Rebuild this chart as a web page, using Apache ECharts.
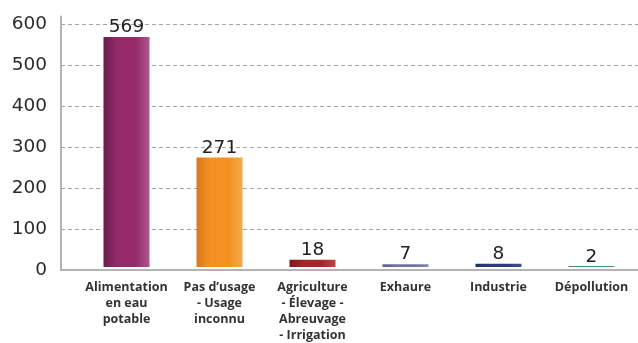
<!DOCTYPE html>
<html>
<head>
<meta charset="utf-8">
<script src="https://cdn.jsdelivr.net/npm/echarts@6/dist/echarts.min.js"></script>
<style>
  html, body { margin: 0; padding: 0; background: #fff; }
  #chart { width: 638px; height: 343px; }
</style>
</head>
<body>
<div id="chart"></div>
<script>
// Usage categories and counts
const categories = [
  'Alimentation\nen eau\npotable',
  'Pas d’usage\n- Usage\ninconnu',
  'Agriculture\n- Élevage -\nAbreuvage\n- Irrigation',
  'Exhaure',
  'Industrie',
  'Dépollution'
];
const values = [569, 271, 18, 7, 8, 2];
const yTicks = [0, 100, 200, 300, 400, 500, 600];

// Bar shading: [left edge, middle, right edge]
const palette = [
  ['#6a1d4c', '#952a6b', '#ad5a8b'],
  ['#d9791a', '#f39222', '#f7a94a'],
  ['#7e1519', '#a3262b', '#b9474b'],
  ['#5f6192', '#70729f', '#8587b0'],
  ['#222d66', '#2f3b7c', '#45508c'],
  ['#07592f', '#0b6b3a', '#1a7a48']
];

const yMax = 620;
const numFont = '"DejaVu Sans", sans-serif';
const catFont = '"Open Sans", "Noto Sans", sans-serif';

const chart = echarts.init(document.getElementById('chart'), null, { renderer: 'canvas' });

chart.setOption({
  animation: false,
  grid: [
    // frame: value axis, grid lines and baseline
    { left: 61, right: 0, top: 16.5, bottom: 73 },
    // bars
    { left: 80, right: -6, top: 16.5, bottom: 73 }
  ],
  xAxis: [
    {
      gridIndex: 0, type: 'value', min: 0, max: 1,
      axisLine: { show: true, lineStyle: { color: '#b3b3b3', width: 2 } },
      axisTick: { show: false }, axisLabel: { show: false }, splitLine: { show: false }
    },
    {
      gridIndex: 1, type: 'category', data: categories,
      axisLine: { show: false }, axisTick: { show: false },
      axisLabel: {
        interval: 0, margin: 12, color: '#333', fontFamily: catFont,
        fontWeight: 'bold', fontSize: 12.5, lineHeight: 16, align: 'center'
      }
    }
  ],
  yAxis: [
    {
      gridIndex: 0, type: 'value', min: 0, max: yMax, interval: 100,
      axisLine: { show: true, lineStyle: { color: '#b3b3b3', width: 2 } },
      axisTick: { show: false },
      axisLabel: {
        showMaxLabel: false, margin: 14, color: '#2b2b2b', fontFamily: numFont, fontSize: 18.5,
        formatter: v => (yTicks.indexOf(v) >= 0 ? String(v) : '')
      },
      splitLine: {
        show: true, showMaxLine: false,
        lineStyle: { color: '#a6a6a6', type: [4, 3], width: 1 }
      }
    },
    {
      gridIndex: 1, type: 'value', min: 0, max: yMax, show: false
    }
  ],
  series: [{
    type: 'bar',
    xAxisIndex: 1, yAxisIndex: 1,
    barWidth: 46,
    data: values.map((v, i) => ({
      value: v,
      itemStyle: {
        color: {
          type: 'linear', x: 0, y: 0, x2: 1, y2: 0,
          colorStops: [
            { offset: 0, color: palette[i][0] },
            { offset: 0.3, color: palette[i][1] },
            { offset: 0.7, color: palette[i][1] },
            { offset: 1, color: palette[i][2] }
          ]
        }
      }
    })),
    label: {
      show: true, position: 'top', distance: 0,
      color: '#222', fontFamily: numFont, fontSize: 18.5
    }
  }]
});
</script>
</body>
</html>
